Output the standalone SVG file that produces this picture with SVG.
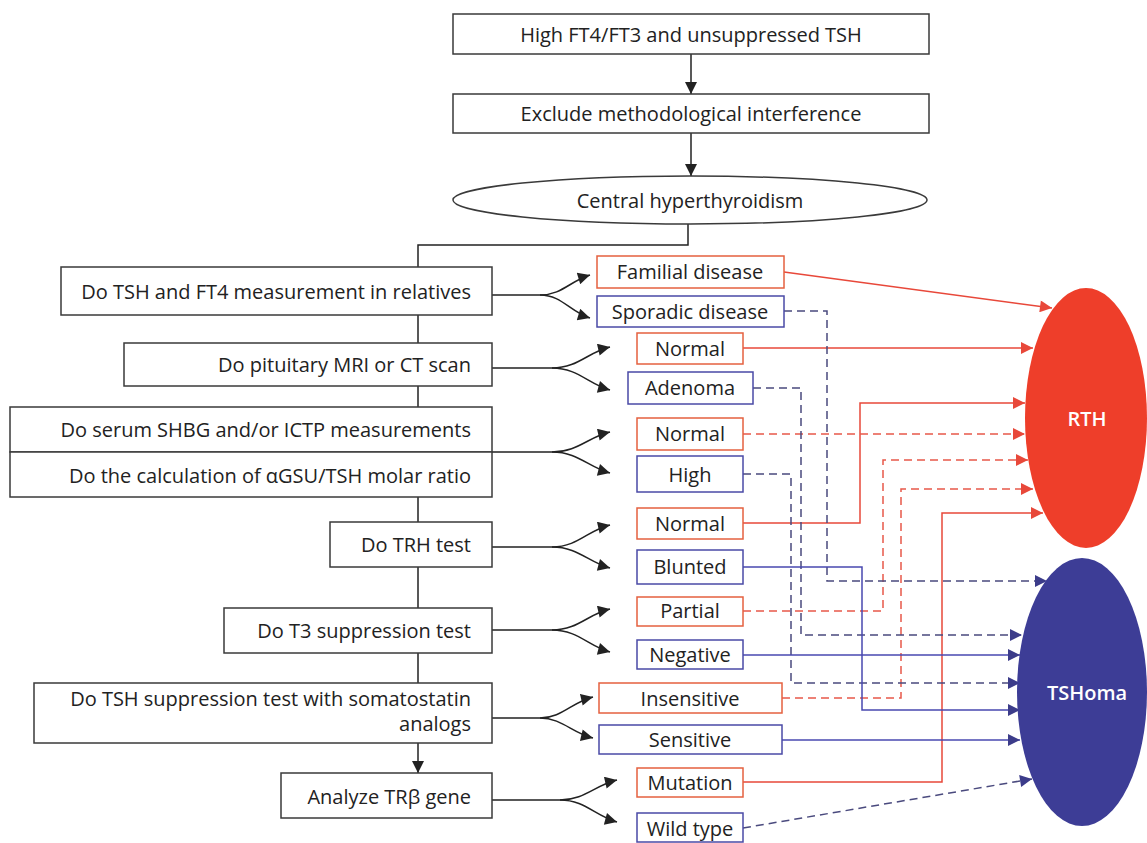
<svg xmlns="http://www.w3.org/2000/svg" width="1147" height="843" viewBox="0 0 1147 843">
<style>
.box{fill:#fff;stroke:#3a3a3a;stroke-width:1.5}
.rb{fill:#fff;stroke:#e5603f;stroke-width:1.5}
.bb{fill:#fff;stroke:#4a4aa6;stroke-width:1.5}
.t{font-family:"Open Sans","Noto Sans",sans-serif;font-size:20px;fill:#222}
.c{text-anchor:middle;dominant-baseline:central}
.e{text-anchor:end;dominant-baseline:central}
.w{font-family:"Open Sans","Noto Sans",sans-serif;font-size:20px;font-weight:600;fill:#fff;text-anchor:middle;dominant-baseline:central}
.k{fill:none;stroke:#222;stroke-width:1.5}
.rs{fill:none;stroke:#e8483a;stroke-width:1.5}
.rd{fill:none;stroke:#e8584a;stroke-width:1.5;stroke-dasharray:8 5}
.bs{fill:none;stroke:#4848b0;stroke-width:1.5}
.bd{fill:none;stroke:#4a4a7e;stroke-width:1.5;stroke-dasharray:8 5}
</style>
<defs>
<marker id="ak" viewBox="0 0 10 10" refX="10" refY="5" markerWidth="13" markerHeight="12" markerUnits="userSpaceOnUse" orient="auto"><path d="M0,0L10,5L0,10z" fill="#222"/></marker>
<marker id="ar" viewBox="0 0 10 10" refX="10" refY="5" markerWidth="14" markerHeight="12" markerUnits="userSpaceOnUse" orient="auto"><path d="M0,0L10,5L0,10z" fill="#e8483a"/></marker>
<marker id="ab" viewBox="0 0 10 10" refX="10" refY="5" markerWidth="14" markerHeight="12" markerUnits="userSpaceOnUse" orient="auto"><path d="M0,0L10,5L0,10z" fill="#3c3c8a"/></marker>
</defs>
<g id="connectors">
<path class="k" d="M691,54V94" marker-end="url(#ak)"/>
<path class="k" d="M691,133V176" marker-end="url(#ak)"/>
<path class="k" d="M688,224V245H418V267M418,315V343M418,386V407M418,497V522M418,567V608M418,653V683"/>
<path class="k" d="M418,743V773" marker-end="url(#ak)"/>
<path class="k" d="M492,295H540C562,295 570,281 590,275" marker-end="url(#ak)"/>
<path class="k" d="M540,295C562,295 570,312 590,318" marker-end="url(#ak)"/>
<path class="k" d="M492,368H552C578,368 588,352 610,347" marker-end="url(#ak)"/>
<path class="k" d="M552,368C578,368 588,384 610,390" marker-end="url(#ak)"/>
<path class="k" d="M492,452H552C578,452 588,437 610,432" marker-end="url(#ak)"/>
<path class="k" d="M552,452C578,452 588,467 610,473" marker-end="url(#ak)"/>
<path class="k" d="M492,547H552C578,547 588,530 610,525" marker-end="url(#ak)"/>
<path class="k" d="M552,547C578,547 588,562 610,568" marker-end="url(#ak)"/>
<path class="k" d="M492,630H552C578,630 588,614 610,609" marker-end="url(#ak)"/>
<path class="k" d="M552,630C578,630 588,646 610,652" marker-end="url(#ak)"/>
<path class="k" d="M492,718H540C562,718 572,702 593,697" marker-end="url(#ak)"/>
<path class="k" d="M540,718C562,718 572,733 593,738" marker-end="url(#ak)"/>
<path class="k" d="M492,800H560C585,800 595,785 617,780" marker-end="url(#ak)"/>
<path class="k" d="M560,800C585,800 595,816 617,822" marker-end="url(#ak)"/>
<path class="rs" d="M784,272L1052,308" marker-end="url(#ar)"/>
<path class="rs" d="M743,348H1033" marker-end="url(#ar)"/>
<path class="rs" d="M743,523H860V403H1025" marker-end="url(#ar)"/>
<path class="rd" d="M743,434H1025" marker-end="url(#ar)"/>
<path class="rd" d="M743,611H883V460H1028" marker-end="url(#ar)"/>
<path class="rd" d="M782,698H901V489H1033" marker-end="url(#ar)"/>
<path class="rs" d="M743,782H942V513H1043" marker-end="url(#ar)"/>
<path class="bd" d="M784,311H827V581H1047" marker-end="url(#ab)"/>
<path class="bd" d="M753,388H801V635H1022" marker-end="url(#ab)"/>
<path class="bd" d="M743,474H791V683H1020" marker-end="url(#ab)"/>
<path class="bs" d="M743,567H862V710H1020" marker-end="url(#ab)"/>
<path class="bs" d="M743,655H1020" marker-end="url(#ab)"/>
<path class="bs" d="M782,740H1020" marker-end="url(#ab)"/>
<path class="bd" d="M743,828L1032,779" marker-end="url(#ab)"/>
</g>
<g id="n1"><rect class="box" x="453" y="14" width="476" height="40"/><text class="t c" x="691" y="34">High FT4/FT3 and unsuppressed TSH</text></g>
<g id="n2"><rect class="box" x="453" y="94" width="476" height="39"/><text class="t c" x="691" y="113">Exclude methodological interference</text></g>
<g id="n3"><ellipse cx="690" cy="200" rx="237" ry="24" fill="#fff" stroke="#3a3a3a" stroke-width="1.5"/><text class="t c" x="690" y="200">Central hyperthyroidism</text></g>
<g id="s1"><rect class="box" x="61" y="267" width="431" height="48"/><text class="t e" x="471" y="291">Do TSH and FT4 measurement in relatives</text></g>
<g id="s2"><rect class="box" x="124" y="343" width="368" height="43"/><text class="t e" x="471" y="364">Do pituitary MRI or CT scan</text></g>
<g id="s3"><rect class="box" x="10" y="407" width="482" height="45"/><text class="t e" x="471" y="429">Do serum SHBG and/or ICTP measurements</text></g>
<g id="s4"><rect class="box" x="10" y="452" width="482" height="45"/><text class="t e" x="471" y="475">Do the calculation of αGSU/TSH molar ratio</text></g>
<g id="s5"><rect class="box" x="330" y="522" width="162" height="45"/><text class="t e" x="471" y="544">Do TRH test</text></g>
<g id="s6"><rect class="box" x="224" y="608" width="268" height="45"/><text class="t e" x="471" y="630">Do T3 suppression test</text></g>
<g id="s7"><rect class="box" x="34" y="683" width="458" height="60"/><text class="t e" x="471" y="698">Do TSH suppression test with somatostatin</text><text class="t e" x="471" y="723">analogs</text></g>
<g id="s8"><rect class="box" x="281" y="773" width="211" height="45"/><text class="t e" x="471" y="796">Analyze TRβ gene</text></g>
<g id="r1"><rect class="rb" x="597" y="256" width="187" height="32"/><text class="t c" x="690" y="271">Familial disease</text></g>
<g id="r2"><rect class="bb" x="597" y="296" width="187" height="31"/><text class="t c" x="690" y="311">Sporadic disease</text></g>
<g id="r3"><rect class="rb" x="637" y="333" width="106" height="31"/><text class="t c" x="690" y="348">Normal</text></g>
<g id="r4"><rect class="bb" x="628" y="372" width="125" height="32"/><text class="t c" x="690" y="387">Adenoma</text></g>
<g id="r5"><rect class="rb" x="637" y="418" width="106" height="32"/><text class="t c" x="690" y="433">Normal</text></g>
<g id="r6"><rect class="bb" x="637" y="456" width="106" height="36"/><text class="t c" x="690" y="474">High</text></g>
<g id="r7"><rect class="rb" x="637" y="508" width="106" height="31"/><text class="t c" x="690" y="523">Normal</text></g>
<g id="r8"><rect class="bb" x="637" y="550" width="106" height="34"/><text class="t c" x="690" y="566">Blunted</text></g>
<g id="r9"><rect class="rb" x="637" y="597" width="106" height="29"/><text class="t c" x="690" y="610">Partial</text></g>
<g id="r10"><rect class="bb" x="637" y="640" width="106" height="29"/><text class="t c" x="690" y="654">Negative</text></g>
<g id="r11"><rect class="rb" x="599" y="683" width="183" height="30"/><text class="t c" x="690" y="698">Insensitive</text></g>
<g id="r12"><rect class="bb" x="599" y="725" width="183" height="29"/><text class="t c" x="690" y="739">Sensitive</text></g>
<g id="r13"><rect class="rb" x="637" y="768" width="106" height="29"/><text class="t c" x="690" y="782">Mutation</text></g>
<g id="r14"><rect class="bb" x="637" y="813" width="106" height="29"/><text class="t c" x="690" y="828">Wild type</text></g>
<g id="rth"><ellipse cx="1086" cy="418" rx="61" ry="130" fill="#ee3e2a"/><text class="w" x="1087" y="418">RTH</text></g>
<g id="tshoma"><ellipse cx="1082" cy="692" rx="65" ry="134" fill="#3d3d96"/><text class="w" x="1087" y="692">TSHoma</text></g>
</svg>
